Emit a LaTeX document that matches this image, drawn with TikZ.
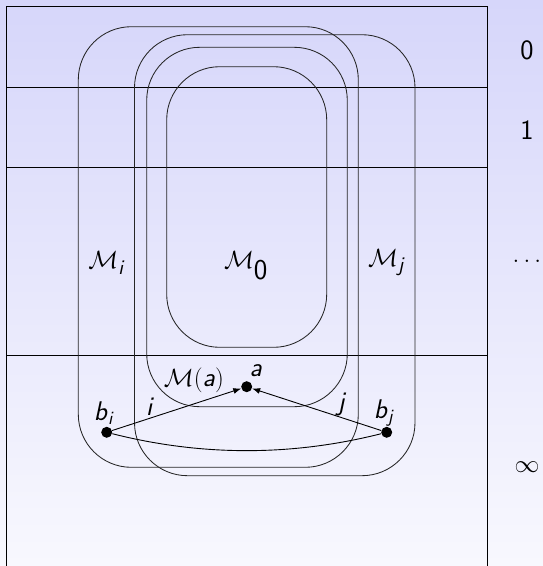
\documentclass[tikz,border=0pt]{standalone}
\usepackage{amsmath}
\usetikzlibrary{arrows.meta,calc}
\newcommand{\sv}[1]{\textsf{\textit{#1}}}
\definecolor{bgtop}{RGB}{214,214,250}
\definecolor{bgbot}{RGB}{248,248,254}
\begin{document}
\begin{tikzpicture}[x=1pt,y=-1pt,
  frame/.style={draw=black,line width=0.9pt},
  region/.style={draw=black!85,line width=0.85pt,rounded corners=53pt},
  dot/.style={circle,fill=black,inner sep=0pt,minimum size=11pt},
  lab/.style={font=\fontsize{27}{32}\selectfont,inner sep=1pt},
  mlab/.style={font=\fontsize{30}{36}\selectfont,inner sep=1pt},
  rlab/.style={font=\fontsize{28}{34}\selectfont\sffamily,inner sep=1pt},
  arr/.style={-{Latex[length=8pt,width=6pt]},line width=0.9pt},
  edge/.style={line width=0.9pt}
]
\shade[top color=bgtop, bottom color=bgbot] (0,0) rectangle (543,566);
\useasboundingbox (0,0) rectangle (543,566);
% frame and strata
\draw[frame] (6.7,566) -- (6.7,6.7) -- (487.3,6.7) -- (487.3,566);
\draw[frame] (6.7,87) -- (487.3,87);
\draw[frame] (6.7,167) -- (487.3,167);
\draw[frame] (6.7,355) -- (487.3,355);
% regions
\draw[region] (78.3,26.7) rectangle (358.3,467.3);   % M_i
\draw[region] (134.5,34.7) rectangle (415,475.7);    % M_j
\draw[region] (146.7,47.3) rectangle (347.3,406.7);  % M(a)
\draw[region] (166.7,66.7) rectangle (326.7,347.3);  % M_0
% labels of regions
\node[mlab] (lmi) at (106.7,263) {$\mathcal{M}_{\sv{i}}$};
\node[mlab] (lmj) at (386.7,263) {$\mathcal{M}_{\sv{j}}$};
\node[font=\fontsize{41}{48}\selectfont,inner sep=1pt] (lm0) at (246,266) {$\mathcal{M}_{\textsf{0}}$};
\node[lab] (lma) at (194,380) {$\mathcal{M}(\sv{a})$};
% points
\node[dot] (bi) at (106.7,432.3) {};
\node[dot] (a) at (246.7,386.7) {};
\node[dot] (bj) at (386.7,432.3) {};
\draw[arr] (bi) -- (a);
\draw[arr] (bj) -- (a);
\draw[edge] (bi) .. controls +(95,24) and +(-95,24) .. (bj);
% point labels
\node[lab] (lbi) at (104,413) {$\sv{b}_{\sv{i}}$};
\node[lab] (lbj) at (384,413) {$\sv{b}_{\sv{j}}$};
\node[lab] (la) at (256,371) {$\sv{a}$};
\node[lab] (li) at (150,407) {$\sv{i}$};
\node[lab] (lj) at (342,404) {$\sv{j}$};
% right column
\node[rlab] (l0) at (527,50) {0};
\node[rlab] (l1) at (527,130) {1};
\node[rlab,anchor=base] (ldots) at (527,262) {$\ldots$};
\node[rlab] (linf) at (527,467) {$\infty$};
\end{tikzpicture}
\end{document}
